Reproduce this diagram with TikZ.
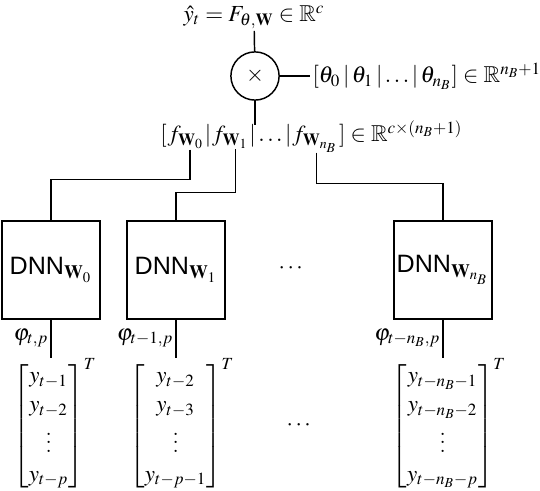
\documentclass[tikz,border=0pt]{standalone}
\usepackage{mathptmx}
\usepackage{amsmath,amssymb}
\usepackage[no-math]{fontspec}
\setsansfont{Liberation Sans}
\usetikzlibrary{positioning}

\renewcommand{\arraystretch}{1.05}

\begin{document}
\begin{tikzpicture}[
        x=0.0168cm, y=-0.0168cm,
        every node/.style={font=\fontsize{11}{13.2}\selectfont},
        wire/.style={line width=0.7pt},
        dnn/.style={draw, line width=0.7pt, minimum size=1.65cm, inner sep=0pt, font=\sffamily\fontsize{12}{14}\selectfont},
        op/.style={draw, circle, line width=0.7pt, minimum size=0.81cm, inner sep=0pt},
        lbl/.style={inner sep=1pt},
        txt/.style={inner sep=0pt, anchor=base west}
    ]
        \useasboundingbox (0,0) rectangle (540,490);

        % output and weighting
        \node[lbl] (out) at (254,17) {$\hat{y}_t = F_{\theta,\mathbf{W}} \in \mathbb{R}^c$};
        \node[op] (mult) at (255,76) {$\times$};
        \node[lbl, anchor=west] (theta) at (310,76) {$[\theta_0\,|\,\theta_1\,|\ldots|\,\theta_{n_B}] \in \mathbb{R}^{n_B+1}$};

        % stacked outputs, set piece by piece
        \node[txt] (fopen) at (160,142) {$[$};
        \node[txt] (fw0) at (fopen.base east) {$f_{\mathbf{W}_0}$};
        \node[txt] (fbar) at (fw0.base east) {$|$};
        \node[txt] (fw1) at (fbar.base east) {$f_{\mathbf{W}_1}$};
        \node[txt] (fmid) at (fw1.base east) {$|\ldots|$};
        \node[txt] (fw2) at (fmid.base east) {$f_{\mathbf{W}_{n_B}}$};
        \node[txt] (fclose) at (fw2.base east) {$] \in \mathbb{R}^{c\times(n_B+1)}$};

        \draw[wire] (out) -- (mult);
        \draw[wire] (mult) -- (theta);
        \draw[wire] (mult) -- (mult |- fmid.north);

        % networks
        \node[dnn] (dnn0) at (51,270) {DNN$_{\mathbf{W}_0}$};
        \node[dnn] (dnn1) at (176,270) {DNN$_{\mathbf{W}_1}$};
        \node[dnn] (dnn2) at (443,270) {DNN$_{\mathbf{W}_{n_B}}$};
        \node (hdots) at (292,268) {$\cdots$};

        \draw[wire] (fw0.south) ++(4,0) -- ++(0,30) -| (dnn0.north);
        \draw[wire] (fw1.south) ++(5,0) -- ++(0,43) -| (dnn1.north);
        \draw[wire] (fw2.south) ++(1,0) -- ++(0,31) -| (dnn2.north);

        % inputs
        \node[inner sep=0pt] (vec0) at (55,424) {$\begin{bmatrix} y_{t-1}\\ y_{t-2}\\ \vdots\\ y_{t-p}\end{bmatrix}^T$};
        \node[inner sep=0pt] (vec1) at (182,424) {$\begin{bmatrix} y_{t-2}\\ y_{t-3}\\ \vdots\\ y_{t-p-1}\end{bmatrix}^T$};
        \node[inner sep=0pt] (vec2) at (449,424) {$\begin{bmatrix} y_{t-n_B-1}\\ y_{t-n_B-2}\\ \vdots\\ y_{t-n_B-p}\end{bmatrix}^T$};
        \node (vdots) at (300,425) {$\cdots$};

        \draw[wire] (dnn0.south) -- (dnn0.south |- vec0.north);
        \draw[wire] (dnn1.south) -- (dnn1.south |- vec1.north);
        \draw[wire] (dnn2.south) -- (dnn2.south |- vec2.north);

        \node[lbl, anchor=east] (phi0) at (51,338) {$\varphi_{t,p}$};
        \node[lbl, anchor=east] (phi1) at (176,338) {$\varphi_{t-1,p}$};
        \node[lbl, anchor=east] (phi2) at (443,338) {$\varphi_{t-n_B,p}$};
    \end{tikzpicture}
\end{document}
